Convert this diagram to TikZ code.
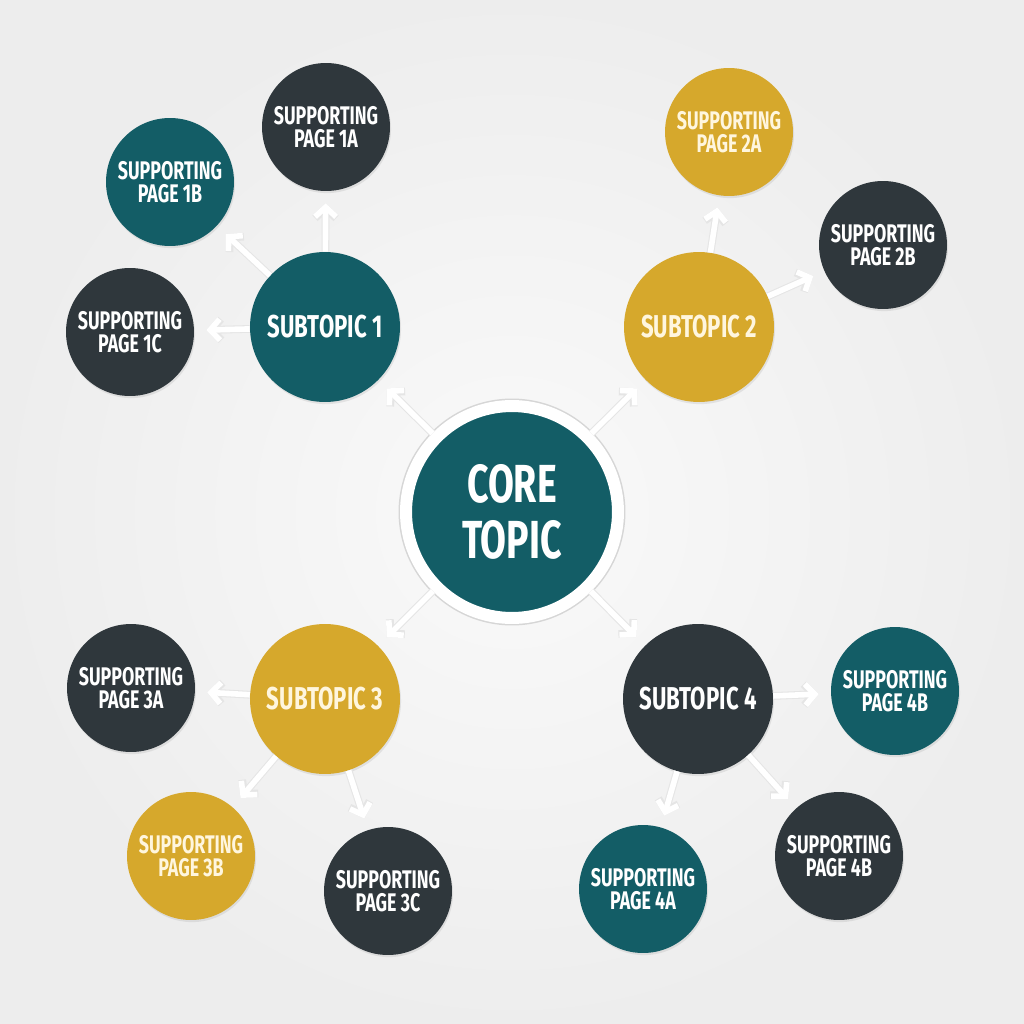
\documentclass[tikz,border=0pt]{standalone}
\usepackage{fontspec}
\setmainfont{Fira Sans}[FakeStretch=0.7]
\usepackage{xcolor}
\definecolor{MapTeal}{HTML}{135D66}
\definecolor{MapSlate}{HTML}{2F373C}
\definecolor{MapGold}{HTML}{D6A82C}
\definecolor{MapCream}{HTML}{FFF6DE}
\usetikzlibrary{arrows.meta}
\usetikzlibrary{shadows}
\tikzset{
	topicnode/.style={circle, inner sep=0pt, align=center, text=white,
		drop shadow={opacity=0.16, shadow xshift=0.6pt, shadow yshift=-1.2pt}},
	supp/.style={topicnode, minimum size=2.56cm, font=\fontsize{14.5}{13.4}\selectfont\bfseries},
	subt/.style={topicnode, minimum size=3cm, font=\fontsize{18}{18}\selectfont\bfseries},
	corenode/.style={topicnode, fill=MapTeal, draw=white, line width=0.24cm, minimum size=4.24cm,
		font=\fontsize{30.5}{32}\selectfont\bfseries, preaction={draw=black!16, line width=0.3cm}},
	link/.style={draw=white, line width=3.2pt, -{Straight Barb[length=5.5pt,width=12pt]},
		shorten >=0.24cm, preaction={draw=black!10, line width=4.4pt}}
}

\begin{document}
\begin{tikzpicture}[x=0.02cm,y=-0.02cm]
		% background
		\shade[inner color=black!2, outer color=black!7] (0,0) rectangle (1024,1024);
		\useasboundingbox (0,0) rectangle (1024,1024);
		
		\node[corenode] (core) at (512,512) {CORE\\TOPIC};
		
		\node[subt, fill=MapTeal] (sub1) at (325,327) {SUBTOPIC 1};
		\node[subt, fill=MapGold, text=MapCream] (sub2) at (699,327) {SUBTOPIC 2};
		\node[subt, fill=MapGold, text=MapCream] (sub3) at (325,699) {SUBTOPIC 3};
		\node[subt, fill=MapSlate] (sub4) at (698,699) {SUBTOPIC 4};
		
		\node[supp, fill=MapSlate] (page1a) at (326,127) {SUPPORTING\\PAGE 1A};
		\node[supp, fill=MapTeal] (page1b) at (170,182) {SUPPORTING\\PAGE 1B};
		\node[supp, fill=MapSlate] (page1c) at (130,332) {SUPPORTING\\PAGE 1C};
		
		\node[supp, fill=MapGold, text=MapCream] (page2a) at (729,132) {SUPPORTING\\PAGE 2A};
		\node[supp, fill=MapSlate] (page2b) at (883,245) {SUPPORTING\\PAGE 2B};
		
		\node[supp, fill=MapSlate] (page3a) at (131,688) {SUPPORTING\\PAGE 3A};
		\node[supp, fill=MapGold, text=MapCream] (page3b) at (191,856) {SUPPORTING\\PAGE 3B};
		\node[supp, fill=MapSlate] (page3c) at (388,891) {SUPPORTING\\PAGE 3C};
		
		\node[supp, fill=MapTeal] (page4a) at (643,889) {SUPPORTING\\PAGE 4A};
		\node[supp, fill=MapTeal] (page4b) at (895,691) {SUPPORTING\\PAGE 4B};
		\node[supp, fill=MapSlate] (page4c) at (839,856) {SUPPORTING\\PAGE 4B};
		
		% arrows
		\foreach \s in {1,2,3,4} \draw[link] (core) -- (sub\s);
		\foreach \p in {a,b,c} \draw[link] (sub1) -- (page1\p);
		\foreach \p in {a,b} \draw[link] (sub2) -- (page2\p);
		\foreach \p in {a,b,c} \draw[link] (sub3) -- (page3\p);
		\foreach \p in {a,b,c} \draw[link] (sub4) -- (page4\p);
		
	\end{tikzpicture}
\end{document}
